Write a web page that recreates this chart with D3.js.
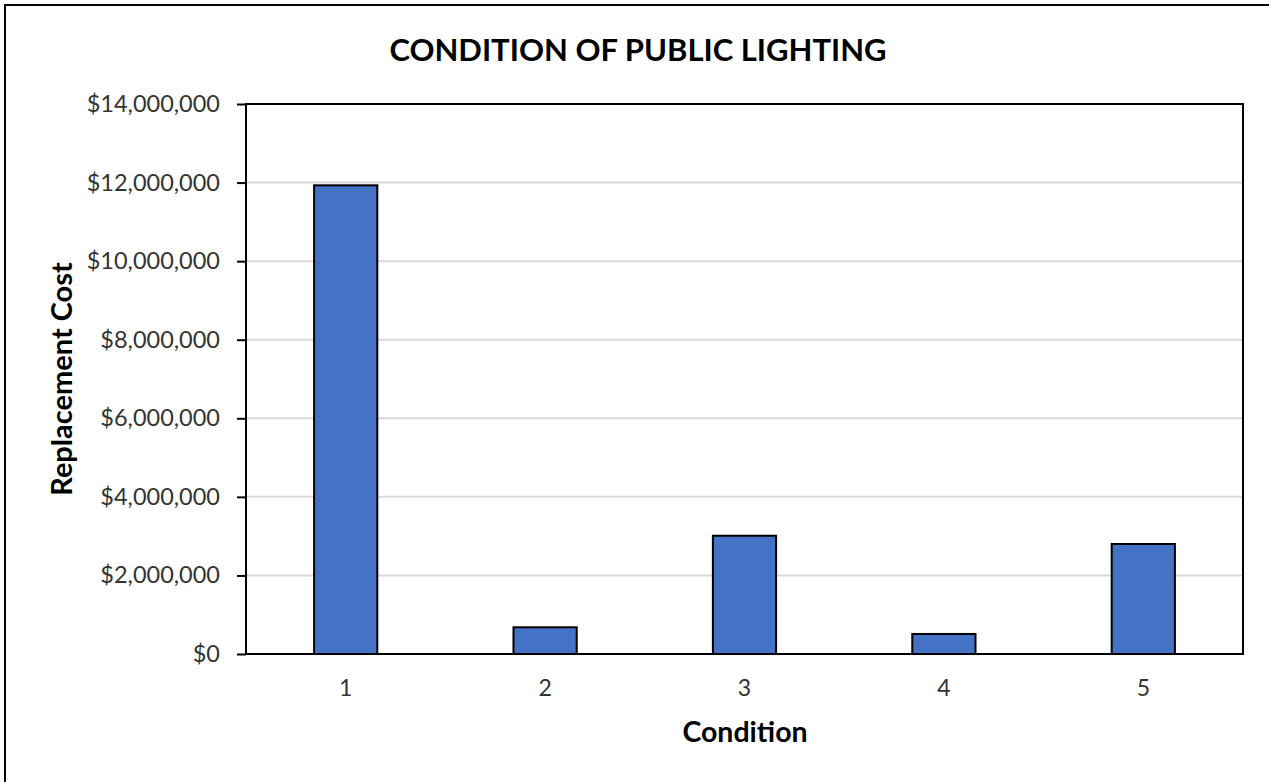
<!DOCTYPE html>
<html>
<head>
<meta charset="utf-8">
<script src="https://cdn.jsdelivr.net/npm/d3@7"></script>
<style>
  html, body { margin: 0; padding: 0; background: #fff; }
  svg { display: block; }
</style>
</head>
<body>
<svg id="chart" width="1269" height="782"></svg>
<script>
const conditions = ["1", "2", "3", "4", "5"];
const replacementCost = [11930000, 680000, 3010000, 510000, 2800000];
const yTicks = [0, 2000000, 4000000, 6000000, 8000000, 10000000, 12000000, 14000000];

const W = 1269, H = 782;
const m = { top: 104, right: 26, bottom: 128, left: 246 };
const iW = W - m.left - m.right;
const iH = H - m.top - m.bottom;
const FONT = "Lato, 'Open Sans', sans-serif";

const svg = d3.select("#chart");

// outer chart border (only top and left show in the frame)
svg.append("path")
  .attr("d", `M5,${H} L5,5 L${W},5`)
  .attr("fill", "none").attr("stroke", "#000").attr("stroke-width", 2);

// Title
svg.append("text")
  .attr("x", 638).attr("y", 61)
  .attr("text-anchor", "middle")
  .style("font-family", FONT).style("font-size", "31px").style("font-weight", "700")
  .style("fill", "#000")
  .text("CONDITION OF PUBLIC LIGHTING");

const g = svg.append("g").attr("transform", `translate(${m.left},${m.top})`);

const x = d3.scaleBand().domain(conditions).range([0, iW]).paddingInner(0.683).paddingOuter(0.3415);
const y = d3.scaleLinear().domain([0, 14000000]).range([iH, 0]);

// Grid
g.append("g").selectAll("line").data(yTicks.slice(1, -1)).join("line")
  .attr("x1", 0).attr("x2", iW)
  .attr("y1", d => y(d)).attr("y2", d => y(d))
  .attr("stroke", "#d9d9d9").attr("stroke-width", 2);

// Bars
g.selectAll(".bar").data(conditions).join("rect")
  .attr("class", "bar")
  .attr("x", d => x(d))
  .attr("y", (d, i) => y(replacementCost[i]))
  .attr("width", x.bandwidth())
  .attr("height", (d, i) => iH - y(replacementCost[i]))
  .attr("fill", "#4472c4").attr("stroke", "#000").attr("stroke-width", 2);

// Y axis
g.append("g")
  .call(d3.axisLeft(y).tickValues(yTicks).tickSize(9).tickPadding(17)
    .tickFormat(d => "$" + d3.format(",")(d)))
  .call(ax => {
    ax.select(".domain").remove();
    ax.selectAll(".tick line").attr("stroke", "#000").attr("stroke-width", 2);
    ax.selectAll(".tick text").style("font-family", FONT).style("font-size", "23.5px").style("fill", "#333");
  });

// X axis labels
g.append("g")
  .attr("transform", `translate(0,${iH})`)
  .call(d3.axisBottom(x).tickSize(0).tickPadding(26))
  .call(ax => {
    ax.select(".domain").remove();
    ax.selectAll(".tick text").style("font-family", FONT).style("font-size", "23px").style("fill", "#333");
  });

// Plot frame
g.append("rect")
  .attr("x", 0).attr("y", 0).attr("width", iW).attr("height", iH)
  .attr("fill", "none").attr("stroke", "#000").attr("stroke-width", 2);

// Axis titles
svg.append("text")
  .attr("x", 745).attr("y", 742)
  .attr("text-anchor", "middle")
  .style("font-family", FONT).style("font-size", "28.5px").style("font-weight", "700").style("fill", "#000")
  .text("Condition");

svg.append("text")
  .attr("transform", `translate(72,${m.top + iH / 2}) rotate(-90)`)
  .attr("text-anchor", "middle")
  .style("font-family", FONT).style("font-size", "29px").style("font-weight", "700").style("fill", "#000")
  .text("Replacement Cost");
</script>
</body>
</html>
